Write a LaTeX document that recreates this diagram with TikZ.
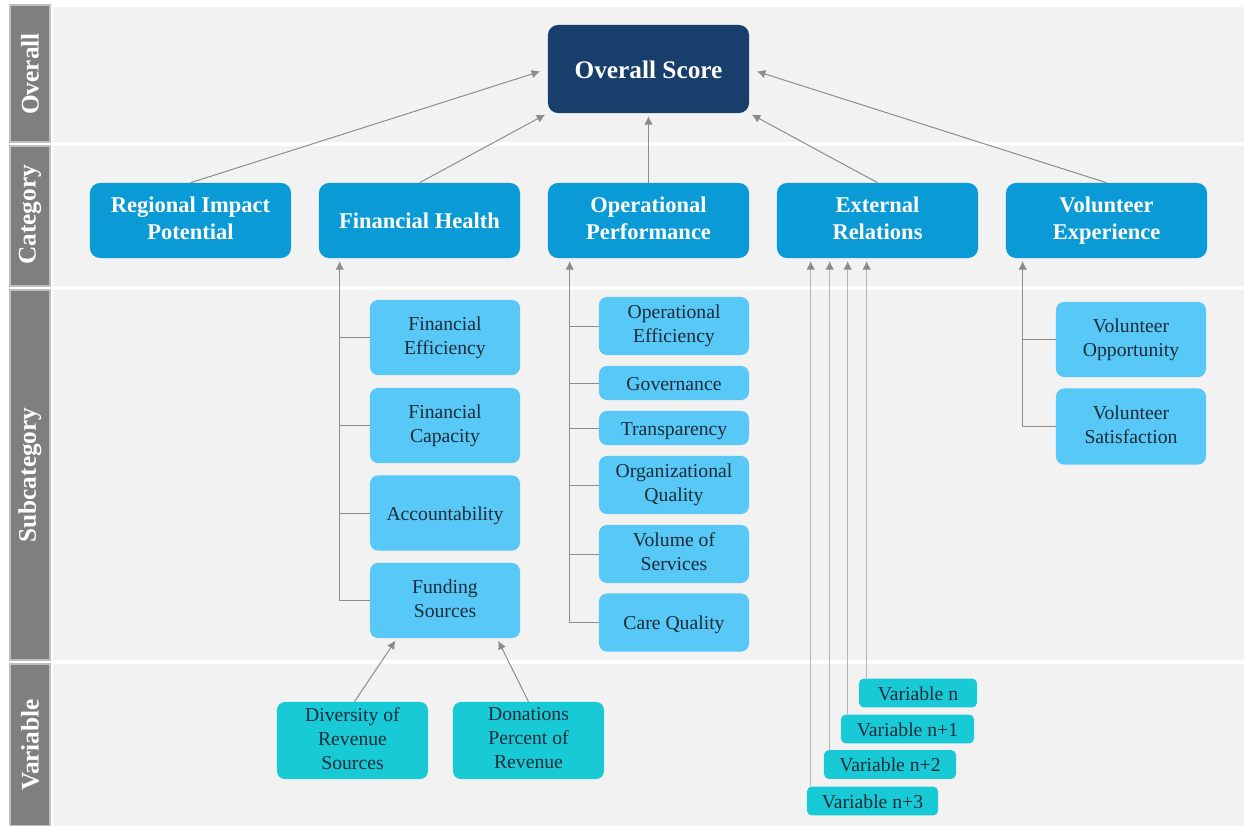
\documentclass[tikz,border=0pt]{standalone}
\usepackage{fontspec}
\setmainfont{Liberation Serif}
\usetikzlibrary{arrows.meta, positioning, calc}
\definecolor{fondo}{HTML}{F2F2F2}
\definecolor{grigiobarra}{HTML}{7F7F7F}
\definecolor{grigiobordo}{HTML}{BFBFBF}
\definecolor{blunotte}{HTML}{183E6C}
\definecolor{bluCat}{HTML}{0A9AD6}
\definecolor{celeste}{HTML}{58C8F6}
\definecolor{turchese}{HTML}{18CAD6}
\definecolor{testo}{HTML}{1C2B39}
\definecolor{grigiolinea}{HTML}{8C8C8C}
\definecolor{grigiofilo}{HTML}{B4B4B4}
\newcommand{\sopra}{\rule{0pt}{0.95em}}
\newcommand{\sotto}{\vphantom{y}}

\begin{document}
\begin{tikzpicture}[x=0.025cm, y=-0.025cm,
    barra/.style={fill=grigiobarra, draw=grigiobordo, line width=0.8pt},
    etichetta/.style={rotate=90, text=white, font=\fontsize{18}{20}\selectfont\bfseries},
    box/.style={rounded corners=0.25cm, align=center, inner sep=1pt, execute at begin node=\sopra, execute at end node=\sotto},
    punteggio/.style={box, fill=blunotte, text=white, font=\fontsize{18}{21}\selectfont\bfseries, minimum width=5.025cm, minimum height=2.2cm},
    categoria/.style={box, fill=bluCat, text=white, font=\fontsize{16}{19.2}\selectfont\bfseries, minimum width=5.025cm, minimum height=1.875cm},
    subcat/.style={box, rounded corners=0.2cm, fill=celeste, text=testo, font=\fontsize{14}{17}\selectfont, minimum width=3.75cm},
    variabile/.style={box, rounded corners=0.2cm, fill=turchese, text=testo, font=\fontsize{14}{17}\selectfont},
    piccola/.style={variabile, rounded corners=0.12cm, minimum height=0.72cm},
    freccia/.style={draw=grigiolinea, line width=0.7pt, -{Latex[length=6pt, width=6pt]}},
    ramo/.style={draw=grigiolinea, line width=0.7pt},
    filo/.style={draw=grigiofilo, line width=0.7pt, -{Latex[length=6pt, width=6pt, color=grigiolinea]}}]
    \useasboundingbox (0,0) rectangle (1244,826);
    % Fasce
    \fill[fondo] (53,7) rectangle (1244,142);
    \fill[fondo] (53,146) rectangle (1244,286);
    \fill[fondo] (53,290) rectangle (1244,660);
    \fill[fondo] (53,664) rectangle (1244,826);
    \filldraw[barra] (10,5) rectangle (50,142);
    \filldraw[barra] (10,146) rectangle (50,286);
    \filldraw[barra] (10,290) rectangle (50,660);
    \filldraw[barra] (10,664) rectangle (50,826);
    \node[etichetta] (lovr) at (30,74) {Overall};
    \node[etichetta] (lcat) at (30,215) {Category};
    \node[etichetta] (lsub) at (30,475) {Subcategory};
    \node[etichetta] (lvar) at (30,745) {Variable};
    % Punteggio e categorie
    \node[punteggio] (os) at (648.5,69) {Overall Score};
    \node[categoria] (rip) at (190.5,220.5) {Regional Impact\\Potential};
    \node[categoria] (fh) at (419.5,220.5) {Financial Health};
    \node[categoria] (op) at (648.5,220.5) {Operational\\Performance};
    \node[categoria] (er) at (877.5,220.5) {External\\Relations};
    \node[categoria] (ve) at (1106.5,220.5) {Volunteer\\Experience};
    \draw[freccia, shorten >=0.2cm] (rip.north) -- (os.west);
    \draw[freccia, shorten >=2pt] (fh.north) -- (os.south west);
    \draw[freccia, shorten >=2pt] (op.north) -- (os.south);
    \draw[freccia, shorten >=2pt] (er.north) -- (os.south east);
    \draw[freccia, shorten >=0.2cm] (ve.north) -- (os.east);
    % Sottocategorie
    \node[subcat, minimum height=1.875cm] (fe) at (445,337.5) {Financial\\Efficiency};
    \node[subcat, minimum height=1.875cm] (fc) at (445,425.5) {Financial\\Capacity};
    \node[subcat, minimum height=1.875cm] (acc) at (445,513) {Accountability};
    \node[subcat, minimum height=1.875cm] (fs) at (445,600.5) {Funding\\Sources};
    \node[subcat, minimum height=1.45cm] (oe) at (674,326) {Operational\\Efficiency};
    \node[subcat, minimum height=0.85cm] (gov) at (674,383) {Governance};
    \node[subcat, minimum height=0.85cm] (tra) at (674,428) {Transparency};
    \node[subcat, minimum height=1.45cm] (oq) at (674,485) {Organizational\\Quality};
    \node[subcat, minimum height=1.45cm] (vos) at (674,554) {Volume of\\Services};
    \node[subcat, minimum height=1.45cm] (cq) at (674,622.5) {Care Quality};
    \node[subcat, minimum height=1.875cm] (vo) at (1131,339.5) {Volunteer\\Opportunity};
    \node[subcat, minimum height=1.9cm] (vsat) at (1131,426.5) {Volunteer\\Satisfaction};
    \coordinate (fhtronco) at ([xshift=0.525cm]fh.south west);
    \coordinate (optronco) at ([xshift=0.55cm]op.south west);
    \coordinate (vetronco) at ([xshift=0.425cm]ve.south west);
    \draw[freccia, shorten >=2pt] (fs.west) -| (fhtronco);
    \foreach \n in {fe,fc,acc}
        \draw[ramo] (\n.west) -- (\n.west -| fhtronco);
    \draw[freccia, shorten >=2pt] (cq.west) -| (optronco);
    \foreach \n in {oe,gov,tra,oq,vos}
        \draw[ramo] (\n.west) -- (\n.west -| optronco);
    \draw[freccia, shorten >=2pt] (vsat.west) -| (vetronco);
    \draw[ramo] (vo.west) -- (vo.west -| vetronco);
    % Variabili
    \node[variabile, minimum width=3.775cm, minimum height=1.925cm] (drs) at (352.5,740.5) {Diversity of\\Revenue\\Sources};
    \node[variabile, minimum width=3.775cm, minimum height=1.925cm] (dpr) at (528.5,740.5) {Donations\\Percent of\\Revenue};
    \draw[freccia, shorten >=2pt] ([xshift=0.05cm]drs.north) -- ([xshift=-1.2cm]fs.south);
    \draw[freccia, shorten >=2pt] (dpr.north) -- ([xshift=1.3cm]fs.south);
    \node[piccola, minimum width=2.95cm] (vn) at (918,693) {Variable n};
    \node[piccola, minimum width=3.325cm] (vn1) at (907.5,729) {Variable n+1};
    \node[piccola, minimum width=3.3cm] (vn2) at (890,764.5) {Variable n+2};
    \node[piccola, minimum width=3.275cm] (vn3) at (872.5,801) {Variable n+3};
    \draw[filo, shorten >=2pt] ([xshift=0.2cm]vn.north west) -- ([xshift=0.2cm]vn.north west |- er.south);
    \draw[filo, shorten >=2pt] ([xshift=0.175cm]vn1.north west) -- ([xshift=0.175cm]vn1.north west |- er.south);
    \draw[filo, shorten >=2pt] ([xshift=0.15cm]vn2.north west) -- ([xshift=0.15cm]vn2.north west |- er.south);
    \draw[filo, shorten >=2pt] ([xshift=0.1cm]vn3.north west) -- ([xshift=0.1cm]vn3.north west |- er.south);
\end{tikzpicture}
\end{document}
